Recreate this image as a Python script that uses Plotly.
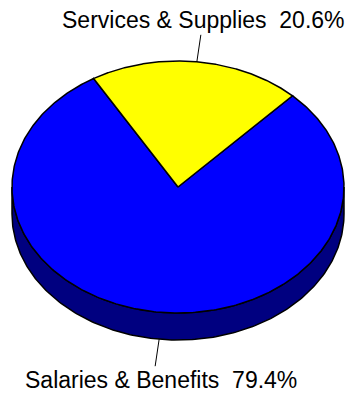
import numpy as np
import plotly.graph_objects as go

# Budget split
labels = ["Salaries & Benefits", "Services & Supplies"]
values = [79.4, 20.6]
colors = ["#0000FF", "#FFFF00"]
side_colors = ["#000080", "#808000"]

# Tilted-pie geometry (pixel units, y grows downward)
W, H = 353, 394
cx, cy = 178, 187
rx, ry = 166, 126
depth = 27
start_angle = 43.6  # where the first slice begins, clockwise from 12 o'clock


def rim(theta_deg, drop=0.0):
    t = np.radians(theta_deg)
    return cx + rx * np.sin(t), cy - ry * np.cos(t) + drop


fig = go.Figure()

total = sum(values)
spans = [v / total * 360 for v in values]
bounds = []
a = start_angle
for s in spans:
    bounds.append((a, a + s))
    a += s

# Side band of the disc: only the front half (90..270 deg) is visible
for (a0, a1), sc in zip(bounds, side_colors):
    lo, hi = max(a0, 90), min(a1, 270)
    # also handle wrap-around spans
    segs = []
    for off in (0, -360, 360):
        l, h = max(a0 + off, 90), min(a1 + off, 270)
        if h > l:
            segs.append((l, h))
    for l, h in segs:
        th = np.linspace(l, h, 200)
        xt, yt = rim(th)
        xb, yb = rim(th[::-1], depth)
        fig.add_trace(go.Scatter(
            x=np.concatenate([xt, xb, xt[:1]]),
            y=np.concatenate([yt, yb, yt[:1]]),
            mode="lines", fill="toself", fillcolor=sc,
            line=dict(color="black", width=1.5),
            hoverinfo="skip", showlegend=False))

# Top faces of the slices
for (a0, a1), c in zip(bounds, colors):
    th = np.linspace(a0, a1, 400)
    xs, ys = rim(th)
    fig.add_trace(go.Scatter(
        x=np.concatenate([[cx], xs, [cx]]),
        y=np.concatenate([[cy], ys, [cy]]),
        mode="lines", fill="toself", fillcolor=c,
        line=dict(color="black", width=1.5),
        hoverinfo="skip", showlegend=False))

# Leader lines and labels
label_pos = {
    "Salaries & Benefits": (161, 380),
    "Services & Supplies": (203, 20),
}
for (a0, a1), lab, v in zip(bounds, labels, values):
    mid = (a0 + a1) / 2 % 360
    front = 90 < mid < 270
    x0, y0 = rim(mid, depth if front else 0)
    tx, ty = label_pos[lab]
    x1 = x0 + (-4 if front else 4)
    y1 = y0 + (27 if front else -27)
    fig.add_trace(go.Scatter(
        x=[x0, x1], y=[y0, y1], mode="lines",
        line=dict(color="black", width=1),
        hoverinfo="skip", showlegend=False))
    fig.add_annotation(
        x=tx, y=ty, text=f"{lab}  {v:.1f}%", showarrow=False,
        xanchor="center", yanchor="middle",
        font=dict(family="Liberation Sans, Arial, sans-serif", size=23, color="black"))

fig.update_layout(
    width=W, height=H,
    margin=dict(l=0, r=0, t=0, b=0),
    paper_bgcolor="white", plot_bgcolor="white",
    xaxis=dict(range=[0, W], visible=False, fixedrange=True),
    yaxis=dict(range=[H, 0], visible=False, fixedrange=True),
)

fig.write_html("out.html")
